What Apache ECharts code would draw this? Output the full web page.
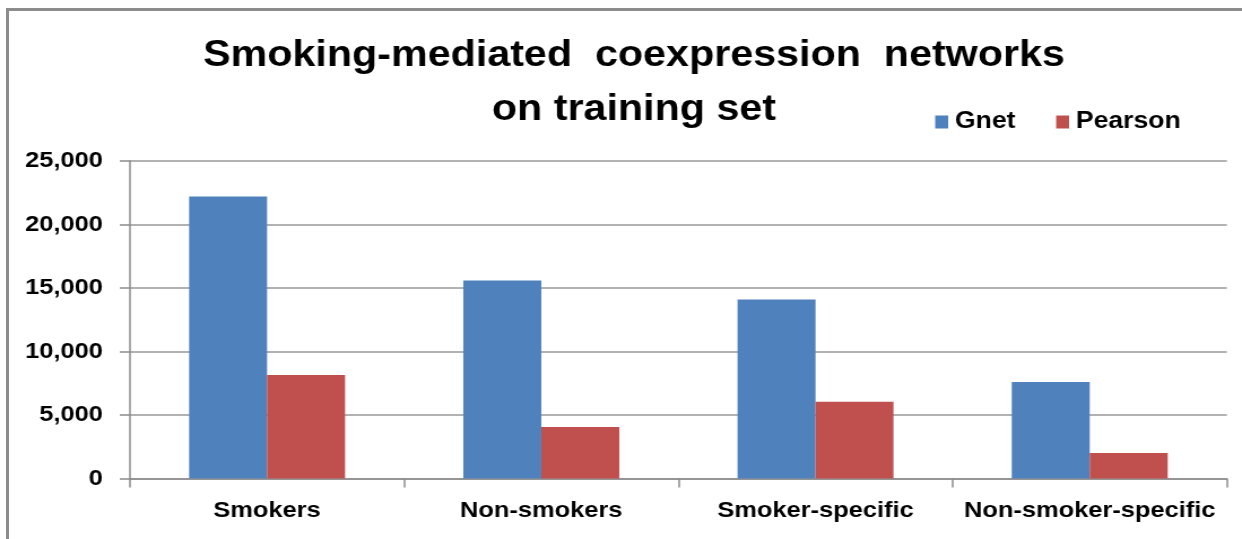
<!DOCTYPE html>
<html>
<head>
<meta charset="utf-8">
<title>Smoking-mediated coexpression networks</title>
<script src="https://cdn.jsdelivr.net/npm/echarts@6/dist/echarts.min.js"></script>
<style>
  html, body { margin: 0; padding: 0; background: #fff; width: 1242px; height: 539px; overflow: hidden; position: relative; }
  /* outer chart-area frame (only top and left edges fall inside the page) */
  #frame { position: absolute; left: 6px; top: 8px; width: 1400px; height: 700px; border: 3px solid #8c8c8c; box-sizing: border-box; }
  /* chart is laid out on a narrower canvas and widened horizontally */
  #chart { position: absolute; left: 0; top: 0; width: 1099px; height: 539px; transform: scaleX(1.1301); transform-origin: 0 0; }
</style>
</head>
<body>
<div id="frame"></div>
<div id="chart"></div>
<script>
// Number of edges in each coexpression network
const categories = ['Smokers', 'Non-smokers', 'Smoker-specific', 'Non-smoker-specific'];
const seriesNames = ['Gnet', 'Pearson'];
const gnetValues = [22200, 15600, 14100, 7600];
const pearsonValues = [8150, 4050, 6050, 2000];
const yTickValues = [0, 5000, 10000, 15000, 20000, 25000];

const FONT = '"Liberation Sans", Arial, Helvetica, sans-serif';
const colors = ['#4F81BD', '#C0504D'];

const chart = echarts.init(document.getElementById('chart'), null, { renderer: 'canvas' });

chart.setOption({
  animation: false,
  backgroundColor: 'transparent',
  color: colors,
  title: {
    text: 'Smoking-mediated  coexpression  networks\non training set',
    left: 556,
    top: 24,
    textAlign: 'center',
    textStyle: {
      fontFamily: FONT,
      fontWeight: 'bold',
      fontSize: 36.5,
      lineHeight: 54,
      color: '#000'
    }
  },
  legend: {
    data: seriesNames,
    left: 822.5,
    top: 105,
    itemWidth: 11.5,
    itemHeight: 13,
    itemGap: 36,
    icon: 'rect',
    textStyle: {
      fontFamily: FONT,
      fontWeight: 'bold',
      fontSize: 23.5,
      color: '#000',
      padding: [0, 0, 0, 1]
    }
  },
  grid: {
    left: 115,
    right: 13.4,
    top: 161,
    bottom: 60.5,
    containLabel: false,
    outerBoundsMode: 'none'
  },
  xAxis: {
    type: 'category',
    data: categories,
    boundaryGap: true,
    axisLine: { show: true, lineStyle: { color: '#8c8c8c', width: 1.5 } },
    axisTick: { show: true, alignWithLabel: false, length: 9, lineStyle: { color: '#8c8c8c', width: 1.5 } },
    axisLabel: {
      margin: 21,
      interval: 0,
      fontFamily: FONT,
      fontWeight: 'bold',
      fontSize: 22.5,
      color: '#000'
    },
    splitLine: { show: false }
  },
  yAxis: {
    type: 'value',
    min: yTickValues[0],
    max: yTickValues[yTickValues.length - 1],
    interval: yTickValues[1] - yTickValues[0],
    axisLine: { show: true, lineStyle: { color: '#8c8c8c', width: 1.5 } },
    axisTick: { show: true, length: 9, lineStyle: { color: '#8c8c8c', width: 1.5 } },
    axisLabel: {
      margin: 24,
      fontFamily: FONT,
      fontWeight: 'bold',
      fontSize: 22.5,
      color: '#000',
      formatter: v => v.toLocaleString('en-US')
    },
    splitLine: { show: true, lineStyle: { color: '#999', width: 1.5 } }
  },
  series: [
    {
      name: seriesNames[0],
      type: 'bar',
      data: gnetValues,
      barWidth: 69,
      barGap: '0%',
      itemStyle: { color: colors[0] }
    },
    {
      name: seriesNames[1],
      type: 'bar',
      data: pearsonValues,
      barWidth: 69,
      barGap: '0%',
      itemStyle: { color: colors[1] }
    }
  ]
});
</script>
</body>
</html>
